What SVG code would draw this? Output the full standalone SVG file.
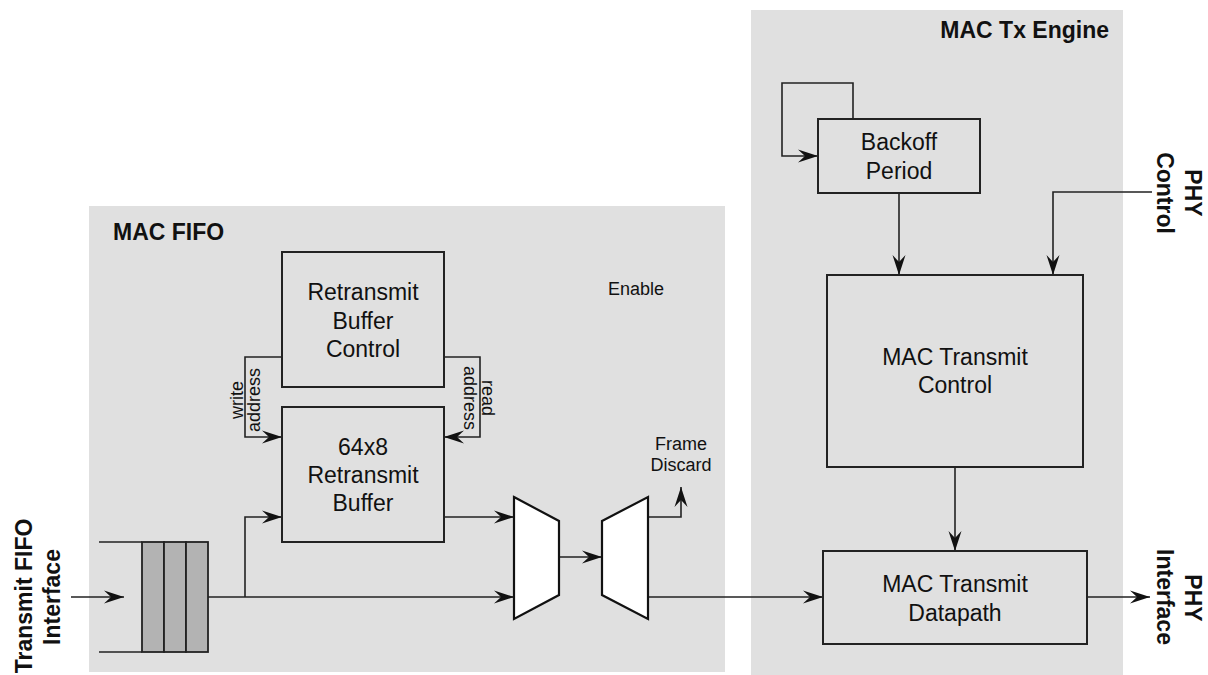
<svg xmlns="http://www.w3.org/2000/svg" width="1208" height="675" viewBox="0 0 1208 675">
<style>
.region{fill:#e0e0e0;stroke:none}
.box{fill:#e0e0e0;stroke:#222;stroke-width:2}
.cell{fill:#b3b3b3;stroke:#222;stroke-width:1.8}
.mux{fill:#fff;stroke:#111;stroke-width:2.2}
.wire{fill:none;stroke:#222;stroke-width:1.6}
.arr{marker-end:url(#ah)}
.t{font-family:"Liberation Sans",Arial,Helvetica,sans-serif;font-size:23px;fill:#111;text-anchor:middle}
.s{font-family:"Liberation Sans",Arial,Helvetica,sans-serif;font-size:18px;fill:#111;text-anchor:middle}
.b{font-family:"Liberation Sans",Arial,Helvetica,sans-serif;font-size:23px;font-weight:bold;fill:#111}
</style>
<defs>
<marker id="ah" markerUnits="userSpaceOnUse" markerWidth="22" markerHeight="14" viewBox="-21 -7 22 14" refX="0" refY="0" orient="auto">
<path d="M0,0 L-20,-6.5 L-13,0 L-20,6.5 Z" fill="#111"/>
</marker>
</defs>

<g id="mac-fifo">
<rect class="region" x="89" y="206" width="636" height="466"/>
<text class="b" x="113" y="240">MAC FIFO</text>
</g>
<g id="mac-tx-engine">
<rect class="region" x="751" y="10" width="372" height="665"/>
<text class="b" x="1109" y="38" text-anchor="end">MAC Tx Engine</text>
</g>

<g id="connectors">
<!-- input -->
<line class="wire arr" x1="71" y1="597" x2="124" y2="597"/>
<!-- FIFO out to mux1 lower -->
<line class="wire arr" x1="208" y1="597" x2="514" y2="597"/>
<!-- branch to buffer -->
<polyline class="wire arr" points="245,597 245,517 282,517"/>
<!-- write address -->
<polyline class="wire arr" points="282,357 245,357 245,437 282,437"/>
<!-- read address -->
<polyline class="wire arr" points="444,357 480,357 480,437 444,437"/>
<!-- buffer out to mux1 upper -->
<line class="wire arr" x1="444" y1="517" x2="514" y2="517"/>
<!-- mux1 to mux2 -->
<line class="wire arr" x1="559" y1="557" x2="602" y2="557"/>
<!-- frame discard -->
<polyline class="wire arr" points="648,517 681,517 681,487"/>
<!-- mux2 to datapath -->
<line class="wire arr" x1="648" y1="597" x2="823" y2="597"/>
<!-- backoff loop -->
<polyline class="wire arr" points="853,119 853,83 782,83 782,156 818,156"/>
<!-- backoff to control -->
<line class="wire arr" x1="899" y1="193" x2="899" y2="275"/>
<!-- PHY control -->
<polyline class="wire arr" points="1152,192 1053,192 1053,275"/>
<!-- control to datapath -->
<line class="wire arr" x1="955" y1="467" x2="955" y2="551"/>
<!-- datapath to PHY -->
<line class="wire arr" x1="1087" y1="597" x2="1150" y2="597"/>
</g>

<g id="transmit-fifo">
<line class="wire" x1="99" y1="542" x2="142" y2="542"/>
<line class="wire" x1="99" y1="652" x2="142" y2="652"/>
<rect class="cell" x="142" y="542" width="22" height="110"/>
<rect class="cell" x="164" y="542" width="22" height="110"/>
<rect class="cell" x="186" y="542" width="22" height="110"/>
</g>

<g id="retransmit-buffer-control">
<rect class="box" x="282" y="252" width="162" height="135"/>
<text class="t" x="363" y="300">Retransmit</text>
<text class="t" x="363" y="329">Buffer</text>
<text class="t" x="363" y="357">Control</text>
</g>

<g id="retransmit-buffer">
<rect class="box" x="282" y="407" width="162" height="135"/>
<text class="t" x="363" y="455">64x8</text>
<text class="t" x="363" y="483">Retransmit</text>
<text class="t" x="363" y="511">Buffer</text>
</g>

<g id="write-address-label">
<text class="s" transform="translate(243,400) rotate(-90)">write</text>
<text class="s" transform="translate(260,400) rotate(-90)">address</text>
</g>
<g id="read-address-label">
<text class="s" transform="translate(482,398) rotate(90)">read</text>
<text class="s" transform="translate(464,398) rotate(90)">address</text>
</g>

<g id="mux1">
<polygon class="mux" points="514,497 559,521 559,595 514,619"/>
</g>
<g id="mux2">
<polygon class="mux" points="602,521 648,497 648,619 602,595"/>
</g>

<g id="enable-label">
<text class="s" x="636" y="295">Enable</text>
</g>
<g id="frame-discard-label">
<text class="s" x="681" y="450">Frame</text>
<text class="s" x="681" y="471">Discard</text>
</g>

<g id="backoff-period">
<rect class="box" x="818" y="119" width="162" height="74"/>
<text class="t" x="899" y="150">Backoff</text>
<text class="t" x="899" y="179">Period</text>
</g>

<g id="mac-transmit-control">
<rect class="box" x="827" y="275" width="256" height="192"/>
<text class="t" x="955" y="365">MAC Transmit</text>
<text class="t" x="955" y="393">Control</text>
</g>

<g id="mac-transmit-datapath">
<rect class="box" x="823" y="551" width="264" height="93"/>
<text class="t" x="955" y="592">MAC Transmit</text>
<text class="t" x="955" y="621">Datapath</text>
</g>

<g id="transmit-fifo-interface-label">
<text class="b" text-anchor="middle" transform="translate(32,596) rotate(-90)">Transmit FIFO</text>
<text class="b" text-anchor="middle" transform="translate(60,597) rotate(-90)">Interface</text>
</g>
<g id="phy-control-label">
<text class="b" text-anchor="middle" transform="translate(1185,193) rotate(90)">PHY</text>
<text class="b" text-anchor="middle" transform="translate(1157,193) rotate(90)">Control</text>
</g>
<g id="phy-interface-label">
<text class="b" text-anchor="middle" transform="translate(1185,598) rotate(90)">PHY</text>
<text class="b" text-anchor="middle" transform="translate(1157,597) rotate(90)">Interface</text>
</g>
</svg>
